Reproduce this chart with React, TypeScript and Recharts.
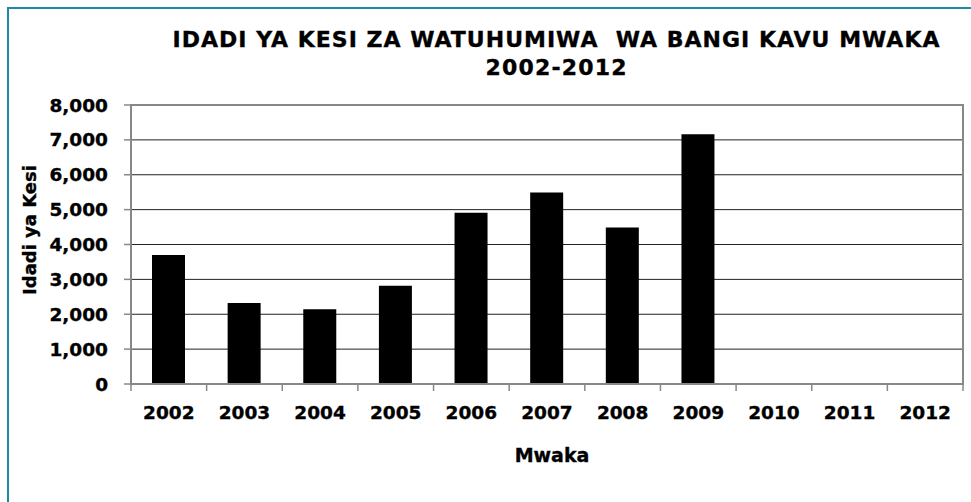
import { BarChart, Bar, XAxis, YAxis, CartesianGrid, Customized } from 'recharts';

const years = ['2002', '2003', '2004', '2005', '2006', '2007', '2008', '2009', '2010', '2011', '2012'];
const cases = [3700, 2320, 2140, 2820, 4910, 5490, 4490, 7160, 0, 0, 0];
const yTicks = [0, 1000, 2000, 3000, 4000, 5000, 6000, 7000, 8000];

const titleLine1 = 'IDADI YA KESI ZA WATUHUMIWA  WA BANGI KAVU MWAKA';
const titleLine2 = '2002-2012';
const yLabel = 'Idadi ya Kesi';
const xLabel = 'Mwaka';

const data = years.map((year, i) => ({ year, cases: cases[i] }));

const W = 971;
const H = 502;
const PLOT_LEFT = 131;
const PLOT_RIGHT = 963;
const PLOT_TOP = 105;
const PLOT_BOTTOM = 384;
const BAND = (PLOT_RIGHT - PLOT_LEFT) / years.length;
const FONT = '"DejaVu Sans", Verdana, sans-serif';
const AXIS = '#888888';
// DejaVu Bold is a bit lighter than Verdana Bold, thicken a touch
const HEAVY = { stroke: '#000', strokeWidth: 0.35 };

function XTick(props: any) {
  const { x, payload, index } = props;
  const half = BAND / 2;
  return (
    <g>
      <line x1={x - half} x2={x - half} y1={PLOT_BOTTOM} y2={PLOT_BOTTOM + 7} stroke={AXIS} strokeWidth={1.5} />
      {index === years.length - 1 && (
        <line x1={x + half} x2={x + half} y1={PLOT_BOTTOM} y2={PLOT_BOTTOM + 7} stroke={AXIS} strokeWidth={1.5} />
      )}
      <text x={x} y={419} textAnchor="middle" fontFamily={FONT} fontWeight="bold" fontSize={18.5} fill="#000" {...HEAVY}>
        {payload.value}
      </text>
    </g>
  );
}

function Labels() {
  return (
    <g fontFamily={FONT} fontWeight="bold" fill="#000">
      <rect
        x={PLOT_LEFT}
        y={PLOT_TOP}
        width={PLOT_RIGHT - PLOT_LEFT}
        height={PLOT_BOTTOM - PLOT_TOP}
        fill="none"
        stroke={AXIS}
        strokeWidth={2}
      />
      <text x={556} y={47} textAnchor="middle" fontSize={22} textLength={767} style={{ whiteSpace: 'pre' }} {...HEAVY}>
        {titleLine1}
      </text>
      <text x={556} y={75} textAnchor="middle" fontSize={22} textLength={141} {...HEAVY}>
        {titleLine2}
      </text>
      <text transform="translate(35.5,230) rotate(-90)" textAnchor="middle" fontSize={18} {...HEAVY}>
        {yLabel}
      </text>
      <text x={552} y={462} textAnchor="middle" fontSize={19} {...HEAVY}>
        {xLabel}
      </text>
    </g>
  );
}

export default function App() {
  return (
    <div style={{ position: 'absolute', left: 0, top: 0, width: W, height: H, background: '#fff' }}>
      <div
        style={{
          position: 'absolute',
          left: 7,
          top: 7,
          width: 1000,
          height: 600,
          borderTop: '2px solid #1b8aa5',
          borderLeft: '2px solid #1b8aa5',
        }}
      />
      <BarChart
        width={W}
        height={H}
        data={data}
        margin={{ top: PLOT_TOP, right: W - PLOT_RIGHT, left: PLOT_LEFT - 80, bottom: H - PLOT_BOTTOM - 60 }}
        barSize={33}
        style={{ position: 'absolute', left: 0, top: 0 }}
      >
        <CartesianGrid vertical={false} stroke="#222" strokeWidth={1} />
        <XAxis
          dataKey="year"
          height={60}
          axisLine={{ stroke: AXIS, strokeWidth: 2 }}
          tickLine={false}
          tick={<XTick />}
          interval={0}
        />
        <YAxis
          width={80}
          domain={[0, 8000]}
          ticks={yTicks}
          interval={0}
          axisLine={{ stroke: AXIS, strokeWidth: 2 }}
          tickLine={{ stroke: AXIS, strokeWidth: 1.5 }}
          tickSize={7}
          tickMargin={16}
          tickFormatter={(v: number) => v.toLocaleString('en-US')}
          tick={{ fill: '#000', fontSize: 18.5, fontWeight: 'bold', fontFamily: FONT, ...HEAVY }}
        />
        <Bar dataKey="cases" fill="#000" isAnimationActive={false} />
        <Customized component={<Labels />} />
      </BarChart>
    </div>
  );
}
